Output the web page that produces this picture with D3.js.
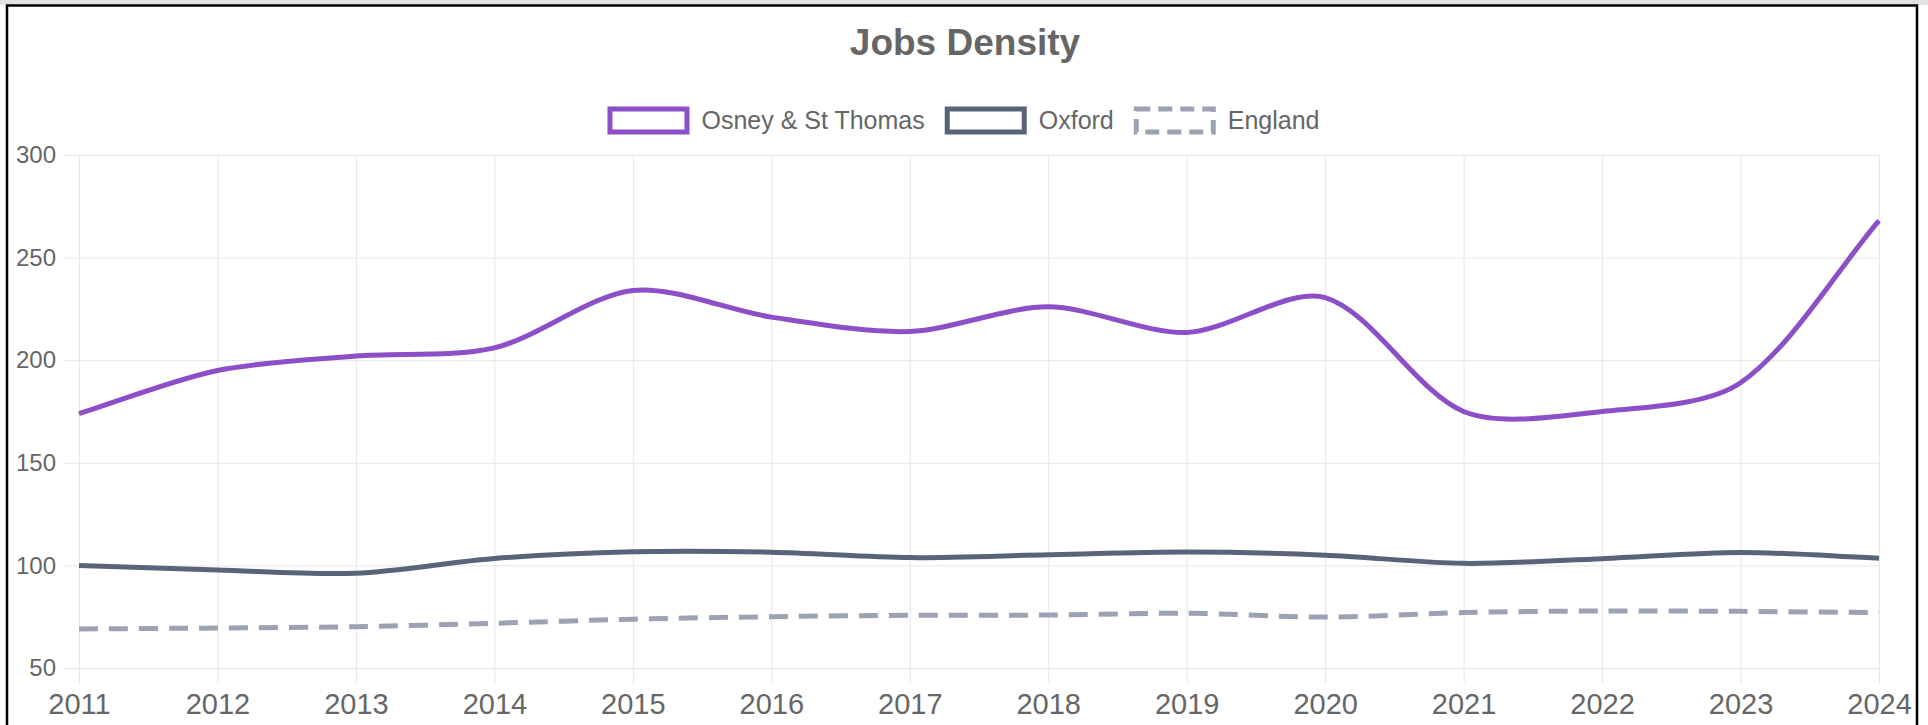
<!DOCTYPE html>
<html>
<head>
<meta charset="utf-8">
<script src="https://cdn.jsdelivr.net/npm/d3@7"></script>
<style>
  html, body { margin: 0; padding: 0; background: #ffffff; }
  svg { display: block; }
  text { font-family: "Liberation Sans", Arial, sans-serif; }
</style>
</head>
<body>
<svg id="chart" width="1928" height="725"></svg>
<script>
// ---------- data ----------
const years = [2011, 2012, 2013, 2014, 2015, 2016, 2017, 2018, 2019, 2020, 2021, 2022, 2023, 2024];
const osney = [174, 195, 202, 206, 234, 221, 214, 226, 213.5, 230.5, 175, 175, 189, 268];
const oxford = [100, 97.8, 96.2, 103.4, 106.6, 106.4, 103.8, 105.2, 106.5, 105, 101, 103.3, 106.3, 103.5];
const england = [69, 69.5, 70.1, 71.8, 73.8, 75, 75.7, 75.8, 76.7, 74.8, 77, 77.8, 77.6, 77];
const yTicks = [50, 100, 150, 200, 250, 300];
const seriesNames = ["Osney & St Thomas", "Oxford", "England"];
const seriesColors = ["#8c4fc8", "#5a6479", "#9aa2b3"];
const chartTitle = "Jobs Density";

// ---------- layout ----------
const W = 1928, H = 725;
const area = { left: 79, right: 1879, top: 155, bottom: 668 };
const svg = d3.select("#chart");

// top gray band & frame
svg.append("rect").attr("x", 0).attr("y", 0).attr("width", W).attr("height", 5).attr("fill", "#e3e3e3");
svg.append("rect").attr("x", 7).attr("y", 5.5).attr("width", 1910).attr("height", 730)
  .attr("fill", "none").attr("stroke", "#000").attr("stroke-width", 2.5);

const x = d3.scaleLinear().domain([years[0], years[years.length - 1]]).range([area.left, area.right]);
const y = d3.scaleLinear().domain([50, 300]).range([area.bottom, area.top]);

// ---------- axes / grid ----------
const yAxis = d3.axisLeft(y).tickValues(yTicks).tickSize(-(area.right - 63)).tickPadding(7).tickFormat(d3.format("d"));
const gy = svg.append("g").attr("transform", `translate(63,0)`).call(yAxis);
gy.select(".domain").remove();
gy.selectAll(".tick line").attr("stroke", "#e6e6e6").attr("stroke-width", 1);
gy.selectAll(".tick text").attr("fill", "#666").style("font-size", "24px");

const xBottom = 683;
const xAxis = d3.axisBottom(x).tickValues(years).tickSize(-(xBottom - area.top)).tickPadding(10).tickFormat(d3.format("d"));
const gx = svg.append("g").attr("transform", `translate(0,${xBottom})`).call(xAxis);
gx.select(".domain").remove();
gx.selectAll(".tick line").attr("stroke", "#e6e6e6").attr("stroke-width", 1);
gx.selectAll(".tick text").attr("fill", "#666").style("font-size", "29px");

// ---------- Chart.js-style spline curve ----------
function ChartJsCurve(context, tension) { this._context = context; this._t = tension; }
ChartJsCurve.prototype = {
  areaStart() {}, areaEnd() {},
  lineStart() { this._pts = []; },
  point(px, py) { this._pts.push({ x: +px, y: +py }); },
  lineEnd() {
    const p = this._pts, n = p.length, t = this._t, c = this._context;
    if (!n) return;
    const cps = p.map((cur, i) => {
      const prev = i > 0 ? p[i - 1] : cur;
      const next = i < n - 1 ? p[i + 1] : cur;
      const d01 = Math.hypot(cur.x - prev.x, cur.y - prev.y);
      const d12 = Math.hypot(next.x - cur.x, next.y - cur.y);
      let s01 = d01 / (d01 + d12), s12 = d12 / (d01 + d12);
      if (isNaN(s01)) s01 = 0; if (isNaN(s12)) s12 = 0;
      const fa = t * s01, fb = t * s12;
      const cap = (v, a, b) => Math.max(a, Math.min(b, v));
      return {
        px: cap(cur.x - fa * (next.x - prev.x), area.left, area.right),
        py: cap(cur.y - fa * (next.y - prev.y), area.top, area.bottom),
        nx: cap(cur.x + fb * (next.x - prev.x), area.left, area.right),
        ny: cap(cur.y + fb * (next.y - prev.y), area.top, area.bottom)
      };
    });
    c.moveTo(p[0].x, p[0].y);
    for (let i = 1; i < n; i++) {
      c.bezierCurveTo(cps[i - 1].nx, cps[i - 1].ny, cps[i].px, cps[i].py, p[i].x, p[i].y);
    }
  }
};
const chartJsCurve = (context) => new ChartJsCurve(context, 0.3);

const line = d3.line().x((d, i) => x(years[i])).y(d => y(d)).curve(chartJsCurve);

const allSeries = [osney, oxford, england];
const dashes = [null, null, "19 11"];
// draw England first (under), then Oxford, then Osney
[2, 1, 0].forEach(k => {
  svg.append("path")
    .attr("d", line(allSeries[k]))
    .attr("fill", "none")
    .attr("stroke", seriesColors[k])
    .attr("stroke-width", 5)
    .attr("stroke-linejoin", "round")
    .attr("stroke-dasharray", dashes[k]);
});

// ---------- title ----------
svg.append("text").attr("x", 965).attr("y", 55).attr("text-anchor", "middle")
  .attr("fill", "#666").style("font-size", "37px").style("font-weight", "bold").text(chartTitle);

// ---------- legend ----------
const boxW = 82, boxH = 28, boxGap = 12, itemGap = 20, legendCY = 120.5, legendFont = 25;
const lg = svg.append("g");
const items = seriesNames.map((name, i) => {
  const g = lg.append("g");
  const t = g.append("text").attr("x", boxW + boxGap).attr("y", legendCY + 0.355 * legendFont)
    .attr("fill", "#666").style("font-size", legendFont + "px").text(name);
  const tw = t.node().getComputedTextLength();
  g.append("rect").attr("x", 2.5).attr("y", legendCY - boxH / 2 + 2.5)
    .attr("width", boxW - 5).attr("height", boxH - 5)
    .attr("fill", "#fff").attr("stroke", seriesColors[i]).attr("stroke-width", 5)
    .attr("stroke-dasharray", dashes[i] ? "14 8" : null);
  return { g, w: boxW + boxGap + tw };
});
const totalW = d3.sum(items, d => d.w) + itemGap * (items.length - 1);
let cx = 963.5 - totalW / 2;
items.forEach(it => { it.g.attr("transform", `translate(${cx},0)`); cx += it.w + itemGap; });
</script>
</body>
</html>
